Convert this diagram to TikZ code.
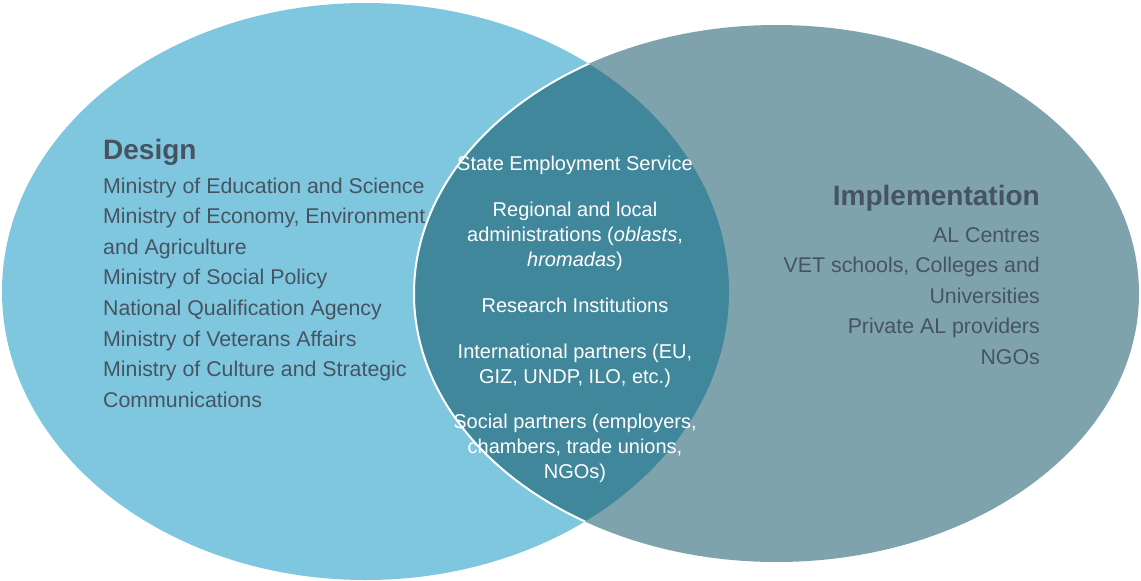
\documentclass[tikz,border=0pt]{standalone}
\usepackage{fontspec}
\setmainfont{Liberation Sans}
\definecolor{designfill}{HTML}{7FC7DE}
\definecolor{implfill}{HTML}{7FA3AC}
\definecolor{sharedfill}{HTML}{40879C}
\definecolor{labeltext}{HTML}{465462}
\begin{document}
\begin{tikzpicture}[x=1pt,y=-1pt,
  heading/.style={font=\fontsize{28}{34}\selectfont\bfseries, text=labeltext, inner sep=0pt},
  entry/.style={font=\fontsize{21.33}{26}\selectfont, text=labeltext, inner sep=0pt},
  shared/.style={font=\fontsize{20}{25}\selectfont, text=white, inner sep=0pt, anchor=base}]
\useasboundingbox (0,0) rectangle (1141,581);

% the two sets
\fill[designfill] (365.5,291.5) ellipse [x radius=363.5pt, y radius=288.5pt];
\fill[implfill] (776.5,293.5) ellipse [x radius=362.5pt, y radius=268.5pt];

% their overlap, with a white rim along the left arc
\begin{scope}
  \clip (365.5,291.5) ellipse [x radius=363.5pt, y radius=288.5pt];
  \fill[sharedfill] (776.5,293.5) ellipse [x radius=362.5pt, y radius=268.5pt];
  \draw[white, line width=2pt] (776.5,293.5) ellipse [x radius=362.5pt, y radius=268.5pt];
\end{scope}

% Design
\node[heading, anchor=base west] (design) at (103,159) {Design};
\node[entry, anchor=base west] (d1) at (103,193.0) {Ministry of Education and Science};
\node[entry, anchor=base west] (d2) at (103,223.6) {Ministry of Economy, Environment};
\node[entry, anchor=base west] (d3) at (103,254.2) {and Agriculture};
\node[entry, anchor=base west] (d4) at (103,284.8) {Ministry of Social Policy};
\node[entry, anchor=base west] (d5) at (103,315.4) {National Qualification Agency};
\node[entry, anchor=base west] (d6) at (103,346.0) {Ministry of Veterans Affairs};
\node[entry, anchor=base west] (d7) at (103,376.6) {Ministry of Culture and Strategic};
\node[entry, anchor=base west] (d8) at (103,407.2) {Communications};

% Implementation
\node[heading, anchor=base east] (impl) at (1040,205) {Implementation};
\node[entry, anchor=base east] (i1) at (1040,242.0) {AL Centres};
\node[entry, anchor=base east] (i2) at (1040,272.5) {VET schools, Colleges and};
\node[entry, anchor=base east] (i3) at (1040,303.0) {Universities};
\node[entry, anchor=base east] (i4) at (1040,333.5) {Private AL providers};
\node[entry, anchor=base east] (i5) at (1040,364.0) {NGOs};

% shared actors
\node[shared] (s1) at (575,170) {State Employment Service};
\node[shared] (s2a) at (575,216) {Regional and local};
\node[shared] (s2b) at (575,241) {administrations (\textit{oblasts},};
\node[shared] (s2c) at (575,266) {\textit{hromadas})};
\node[shared] (s3) at (575,312) {Research Institutions};
\node[shared] (s4a) at (575,358) {International partners (EU,};
\node[shared] (s4b) at (575,383) {GIZ, UNDP, ILO, etc.)};
\node[shared] (s5a) at (575,428) {Social partners (employers,};
\node[shared] (s5b) at (575,453) {chambers, trade unions,};
\node[shared] (s5c) at (575,478) {NGOs)};
\end{tikzpicture}
\end{document}
